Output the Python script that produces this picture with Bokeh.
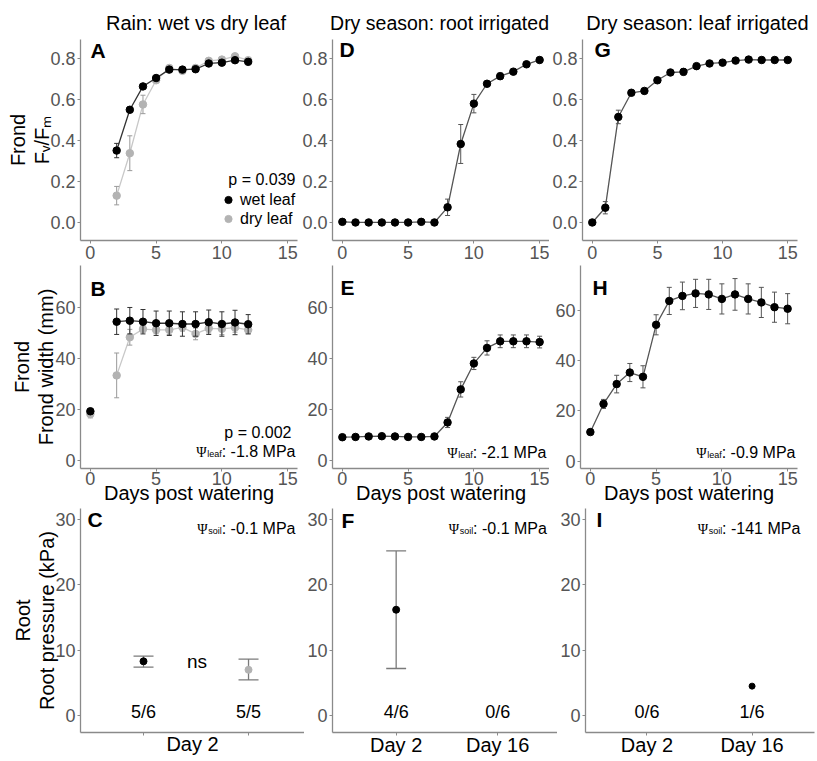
import numpy as np
from bokeh.plotting import figure
from bokeh.layouts import row, column
from bokeh.models import (Label, FixedTicker, Range1d, NumeralTickFormatter,
                          Legend, LegendItem, Title)
from bokeh.core.properties import value
from bokeh.embed import file_html
from bokeh.resources import INLINE

# ------------------------------------------------------------------ data
# Panel A: Frond Fv/Fm, rain (wet vs dry leaf)
days_rain = [2, 3, 4, 5, 6, 7, 8, 9, 10, 11, 12]
fvfm_wet = [0.351, 0.550, 0.664, 0.705, 0.746, 0.746, 0.748, 0.776, 0.780, 0.792, 0.784]
fvfm_wet_se = [0.035, 0.012, 0.008, 0.008, 0.008, 0.008, 0.006, 0.006, 0.006, 0.006, 0.005]
fvfm_dry = [0.131, 0.338, 0.576, 0.694, 0.754, 0.740, 0.754, 0.789, 0.795, 0.811, 0.792]
fvfm_dry_se = [0.045, 0.085, 0.045, 0.010, 0.010, 0.012, 0.008, 0.006, 0.006, 0.005, 0.005]

# Panel B: Frond width (mm), rain (day 0 = before watering, not joined)
days_rain_w = [0, 2, 3, 4, 5, 6, 7, 8, 9, 10, 11, 12]
width_wet = [19.3, 54.5, 54.9, 54.5, 53.9, 53.9, 53.6, 53.6, 54.3, 53.6, 54.2, 53.5]
width_wet_se = [1.0, 5.0, 5.2, 4.8, 4.8, 4.8, 4.8, 4.8, 4.8, 4.8, 4.8, 3.8]
width_dry = [18.2, 33.4, 48.4, 51.6, 51.3, 51.3, 52.3, 49.7, 51.9, 51.7, 52.2, 51.3]
width_dry_se = [1.5, 8.8, 3.1, 1.4, 1.5, 1.8, 1.5, 2.3, 1.8, 2.3, 1.8, 1.5]

# Dry season, days 0..15
days_dry = [0, 1, 2, 3, 4, 5, 6, 7, 8, 9, 10, 11, 12, 13, 14, 15]
# Panel D: root irrigated Fv/Fm
fvfm_root = [0.003, 0.0, 0.0, 0.0, 0.0, 0.0, 0.003, 0.0, 0.074, 0.383, 0.580, 0.677, 0.714, 0.736, 0.772, 0.793]
fvfm_root_se = [0.002, 0.002, 0.002, 0.002, 0.002, 0.002, 0.002, 0.002, 0.040, 0.095, 0.045, 0.012, 0.015, 0.008, 0.006, 0.005]
# Panel G: leaf irrigated Fv/Fm
fvfm_leaf = [0.0, 0.072, 0.515, 0.633, 0.642, 0.694, 0.732, 0.735, 0.763, 0.776, 0.780, 0.790, 0.795, 0.793, 0.793, 0.793]
fvfm_leaf_se = [0.003, 0.030, 0.033, 0.008, 0.008, 0.012, 0.010, 0.015, 0.008, 0.006, 0.006, 0.005, 0.004, 0.004, 0.004, 0.004]
# Panel E: root irrigated frond width
width_root = [9.1, 9.2, 9.4, 9.5, 9.4, 9.2, 9.2, 9.4, 14.9, 27.9, 38.1, 44.2, 46.8, 46.8, 46.8, 46.5]
width_root_se = [0.5, 0.5, 0.5, 0.5, 0.5, 0.5, 0.5, 0.5, 2.0, 3.0, 2.4, 2.8, 2.5, 2.5, 2.5, 2.3]
# Panel H: leaf irrigated frond width
width_leaf = [11.6, 22.8, 30.7, 35.3, 33.6, 54.3, 63.8, 65.8, 66.8, 66.4, 64.6, 66.4, 64.6, 63.2, 61.3, 60.7]
width_leaf_se = [0.6, 1.8, 3.5, 3.6, 4.4, 4.0, 5.4, 5.5, 5.6, 6.0, 6.0, 6.3, 6.0, 6.0, 6.0, 6.0]

# Root pressure (kPa)
groups = [1, 2]
rp_C_mean = [8.3, 7.0]          # wet leaf, dry leaf (Day 2)
rp_C_lo = [7.4, 5.45]
rp_C_hi = [9.1, 8.65]
rp_C_counts = ["5/6", "5/5"]
rp_F_x = [1]
rp_F_mean = [16.2]
rp_F_lo = [7.2]
rp_F_hi = [25.2]
rp_F_counts = ["4/6", "0/6"]
rp_I_x = [2]
rp_I_mean = [4.5]
rp_I_counts = ["0/6", "1/6"]
day_labels = ["Day 2", "Day 16"]

titles = ["Rain: wet vs dry leaf", "Dry season: root irrigated", "Dry season: leaf irrigated"]

# ------------------------------------------------------------------ style
FONT = "Liberation Sans"
SERIF = "Liberation Serif"
AXIS = "#8a8a8a"
TICK = "#555555"
WET = "#000000"
DRY = "#b3b3b3"
BASE_CORR = 0.3   # label baseline correction (fraction of font size)

AW = {' ': 278, '-': 333, '.': 278, ':': 278, '/': 278, '(': 333, ')': 333, '=': 584,
      'M': 833, 'P': 667, 'F': 611, 'R': 722, 'D': 722, 'Ψ': 780,
      'a': 556, 'b': 556, 'c': 500, 'd': 556, 'e': 556, 'f': 278, 'g': 556, 'h': 556,
      'i': 222, 'k': 500, 'l': 222, 'm': 833, 'n': 556, 'o': 556, 'p': 556, 'r': 333,
      's': 500, 't': 278, 'u': 556, 'v': 500, 'w': 722, 'y': 500}


def tw(s, size):
    return sum(AW.get(ch, 556) for ch in s) / 1000.0 * size


class Panel:
    def __init__(self, fig_box, frame_box, xr, yr):
        X0, X1, Y0, Y1 = fig_box
        fx0, fx1, fy0, fy1 = frame_box
        self.fx0, self.fx1, self.fy0, self.fy1 = fx0, fx1, fy0, fy1
        self.xr, self.yr = xr, yr
        self.p = figure(width=X1 - X0, height=Y1 - Y0,
                        x_range=Range1d(*xr), y_range=Range1d(*yr),
                        min_border_left=fx0 - X0, min_border_right=X1 - fx1,
                        min_border_top=fy0 - Y0, min_border_bottom=Y1 - fy1,
                        toolbar_location=None, output_backend="svg",
                        background_fill_color="white", border_fill_color="white")
        p = self.p
        p.xgrid.visible = False
        p.ygrid.visible = False
        p.outline_line_color = None
        for ax in (p.xaxis[0], p.yaxis[0]):
            ax.axis_line_color = AXIS
            ax.axis_line_width = 1.3
            ax.major_tick_line_color = AXIS
            ax.major_tick_in = 0
            ax.major_tick_out = 3
            ax.minor_tick_line_color = None
            ax.major_label_text_font = FONT
            ax.major_label_text_font_size = "18px"
            ax.major_label_text_color = TICK
            ax.major_label_standoff = 2
            ax.axis_label_text_font = FONT
            ax.axis_label_text_font_size = "20px"
            ax.axis_label_text_font_style = "normal"
            ax.axis_label_text_color = "black"
            ax.axis_label_standoff = 0

    @property
    def xscale(self):
        return (self.fx1 - self.fx0) / (self.xr[1] - self.xr[0])

    def dx(self, px):
        return self.xr[0] + (px - self.fx0) / (self.fx1 - self.fx0) * (self.xr[1] - self.xr[0])

    def dy(self, py):
        return self.yr[1] - (py - self.fy0) / (self.fy1 - self.fy0) * (self.yr[1] - self.yr[0])

    def text(self, px, py, s, size, align="left", color="black", font=FONT, style="normal"):
        self.p.add_layout(Label(x=self.dx(px), y=self.dy(py - BASE_CORR * size), text=s,
                                text_font=font, text_font_size=f"{size}px",
                                text_color=color, text_align=align,
                                text_baseline="alphabetic", text_font_style=style))

    def psi(self, right_px, base_py, sub, rest):
        parts = [("Ψ", 14, SERIF), (sub, 9, FONT), (rest, 16, FONT)]
        widths = [tw(s, sz) for s, sz, f in parts]
        x = right_px - sum(widths)
        for (s, sz, f), w in zip(parts, widths):
            self.text(x, base_py, s, sz, font=f)
            x += w

    def side_title(self, s, place, size=20, center_px=None, standoff=0):
        kw = dict(text=s, text_font=FONT, text_font_size=f"{size}px",
                  text_font_style="normal", text_color="black", standoff=standoff)
        if center_px is not None:
            kw.update(align="left", offset=center_px - tw(s, size) / 2.0 - self.fx0)
        else:
            kw.update(align="center")
        self.p.add_layout(Title(**kw), place)

    def series(self, x, y, se, line_color, pt_color, err_color, size=7.5, cap_px=2.5,
               line_from=0):
        x = np.asarray(x, float)
        y = np.asarray(y, float)
        se = np.asarray(se, float)
        p = self.p
        p.line(x[line_from:], y[line_from:], line_color=line_color, line_width=1.3)
        c = cap_px / self.xscale
        p.segment(x, y - se, x, y + se, line_color=err_color, line_width=1)
        p.segment(x - c, y + se, x + c, y + se, line_color=err_color, line_width=1)
        p.segment(x - c, y - se, x + c, y - se, line_color=err_color, line_width=1)
        return p.scatter(x, y, size=size, fill_color=pt_color, line_color=pt_color)

    def errbar(self, x, lo, hi, color="#7a7a7a", cap_px=10):
        x = np.asarray(x, float)
        c = cap_px / self.xscale
        p = self.p
        p.segment(x, lo, x, hi, line_color=color, line_width=1.3)
        p.segment(x - c, hi, x + c, hi, line_color=color, line_width=1.3)
        p.segment(x - c, lo, x + c, lo, line_color=color, line_width=1.3)


def ticks(P, xt, yt, yfmt=None):
    P.p.xaxis.ticker = FixedTicker(ticks=xt)
    P.p.yaxis.ticker = FixedTicker(ticks=yt)
    if yfmt:
        P.p.yaxis.formatter = NumeralTickFormatter(format=yfmt)


XR = (-0.75, 15.75)
# ------------------------------------------------------------------ row 1
A = Panel((0, 299, 0, 265), (80, 297, 39, 240), XR, (-0.088, 0.893))
D = Panel((299, 549, 0, 265), (332, 549, 39, 240), XR, (-0.088, 0.893))
G = Panel((549, 817, 0, 265), (580, 797, 39, 240), XR, (-0.088, 0.893))
for P in (A, D, G):
    ticks(P, [0, 5, 10, 15], [0, 0.2, 0.4, 0.6, 0.8], "0.0")

r_dry = A.series(days_rain, fvfm_dry, fvfm_dry_se, "#c8c8c8", DRY, "#9a9a9a")
r_wet = A.series(days_rain, fvfm_wet, fvfm_wet_se, "#333333", WET, "#333333")
D.series(days_dry, fvfm_root, fvfm_root_se, "#555555", WET, "#555555")
G.series(days_dry, fvfm_leaf, fvfm_leaf_se, "#555555", WET, "#555555")

legend = Legend(items=[LegendItem(label="wet leaf", renderers=[r_wet]),
                       LegendItem(label="dry leaf", renderers=[r_dry])],
                location=(139, 12), orientation="vertical", padding=0, margin=0,
                spacing=0, glyph_width=18, glyph_height=19, label_height=19,
                label_standoff=3, label_text_font=FONT, label_text_font_size="16px",
                label_text_color="black",
                background_fill_alpha=0, border_line_color=None)
A.p.add_layout(legend)
A.text(295, 184, "p = 0.039", 16, align="right")

A.side_title(titles[0], "above", 20, center_px=195.5, standoff=11)
D.side_title(titles[1], "above", 19.5, center_px=439, standoff=11)
G.side_title(titles[2], "above", 20, center_px=695, standoff=11)
A.text(90, 56, "A", 21, style="bold")
D.text(339, 55, "D", 21, style="bold")
G.text(592, 55, "G", 21, style="bold")
A.p.yaxis.axis_label = "Fᵥ/Fₘ"
A.p.yaxis.axis_label_standoff = -6
A.side_title("Frond", "left", 20, standoff=0)

# ------------------------------------------------------------------ row 2
B = Panel((0, 299, 265, 506), (80, 297, 265, 470), XR, (-3.2, 76.6))
E = Panel((299, 549, 265, 506), (332, 549, 265, 470), XR, (-3.2, 76.6))
H = Panel((549, 817, 265, 506), (580, 797, 265, 470), XR, (-2.9, 77.9))
for P in (B, E, H):
    ticks(P, [0, 5, 10, 15], [0, 20, 40, 60])
    P.p.xaxis.major_label_standoff = 0
    P.p.xaxis.axis_label = "Days post watering"
    P.p.xaxis.axis_label_standoff = -6

B.series(days_rain_w, width_dry, width_dry_se, "#c8c8c8", DRY, "#9a9a9a", line_from=1)
B.series(days_rain_w, width_wet, width_wet_se, "#333333", WET, "#333333", line_from=1)
E.series(days_dry, width_root, width_root_se, "#555555", WET, "#555555")
H.series(days_dry, width_leaf, width_leaf_se, "#555555", WET, "#555555")

B.text(291, 438, "p = 0.002", 16, align="right")
B.psi(295, 458, "leaf", ": -1.8 MPa")
E.psi(546, 459, "leaf", ": -2.1 MPa")
H.psi(795, 459, "leaf", ": -0.9 MPa")
B.text(90, 295, "B", 21, style="bold")
E.text(340, 294, "E", 21, style="bold")
H.text(592, 294, "H", 21, style="bold")
B.p.yaxis.axis_label = "Frond width (mm)"
B.p.yaxis.axis_label_standoff = -5
B.side_title("Frond", "left", 20, standoff=0)

# ------------------------------------------------------------------ row 3
YR3 = (-2.6, 31.7)
C = Panel((0, 304, 506, 761), (80, 304, 508, 732), (0.4, 2.533), YR3)
F = Panel((304, 557, 506, 761), (331, 557, 508, 732), (0.373, 2.589), YR3)
I = Panel((557, 817, 506, 761), (583, 814, 508, 732), (0.415, 2.594), YR3)
for P in (C, F, I):
    ticks(P, groups, [0, 10, 20, 30])
    P.p.xaxis.major_label_text_color = "black"
    P.p.xaxis.major_label_text_font_size = "20px"
    P.p.xaxis.major_label_standoff = -2
C.p.xaxis.major_label_overrides = {1: "", 2: ""}
C.p.xaxis.major_label_text_font_size = "1px"
C.p.xaxis.axis_label = "Day 2"
C.p.xaxis.axis_label_standoff = -3
F.p.xaxis.major_label_overrides = {1: day_labels[0], 2: day_labels[1]}
I.p.xaxis.major_label_overrides = {1: day_labels[0], 2: day_labels[1]}

C.errbar(groups, rp_C_lo, rp_C_hi)
C.p.scatter(groups, rp_C_mean, size=7, fill_color=[WET, DRY], line_color=[WET, DRY])
F.errbar(rp_F_x, rp_F_lo, rp_F_hi)
F.p.scatter(rp_F_x, rp_F_mean, size=7, fill_color=WET, line_color=WET)
I.p.scatter(rp_I_x, rp_I_mean, size=6, fill_color=WET, line_color=WET)

for P, counts in ((C, rp_C_counts), (F, rp_F_counts), (I, rp_I_counts)):
    P.p.text(x=groups, y=[P.dy(717 - BASE_CORR * 18)] * 2, text=counts,
             text_font=value(FONT), text_font_size="18px", text_align="center",
             text_baseline="alphabetic", text_color="black")

C.text(196.5, 667, "ns", 19, align="center")
C.psi(295, 533, "soil", ": -0.1 MPa")
F.psi(546, 533, "soil", ": -0.1 MPa")
I.psi(799, 533, "soil", ": -141 MPa")
C.text(87, 525, "C", 21, style="bold")
F.text(340, 526, "F", 21, style="bold")
I.text(594, 525, "I", 21, style="bold")
C.p.yaxis.axis_label = "Root pressure (kPa)"
C.p.yaxis.axis_label_standoff = -6
C.side_title("Root", "left", 20, standoff=0)

layout = column(row(A.p, D.p, G.p, spacing=0),
                row(B.p, E.p, H.p, spacing=0),
                row(C.p, F.p, I.p, spacing=0), spacing=0)

open("out.html", "w").write(file_html(layout, INLINE))
